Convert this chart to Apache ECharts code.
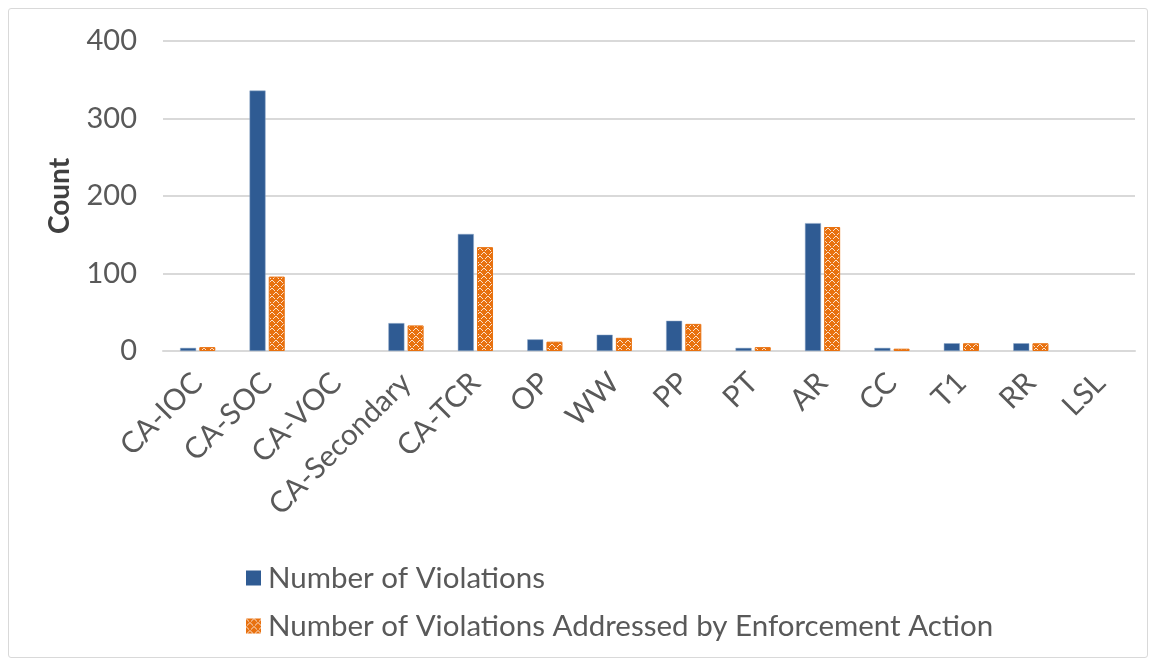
<!DOCTYPE html>
<html>
<head>
<meta charset="utf-8">
<script src="https://cdn.jsdelivr.net/npm/echarts@6/dist/echarts.min.js"></script>
<style>
  html, body { margin: 0; padding: 0; background: #fff; }
  #frame { position: absolute; left: 8px; top: 8px; width: 1138px; height: 648px; border: 1px solid #d9d9d9; border-radius: 3px; }
  #chart { position: absolute; left: 0; top: 0; width: 1156px; height: 665px; }
</style>
</head>
<body>
<div id="frame"></div>
<div id="chart"></div>
<script>
// Violation categories and counts
const categories = ['CA-IOC', 'CA-SOC', 'CA-VOC', 'CA-Secondary', 'CA-TCR', 'OP', 'WW', 'PP', 'PT', 'AR', 'CC', 'T1', 'RR', 'LSL'];
const violations = [4, 336, 0, 36, 151, 15, 21, 39, 4, 165, 4, 10, 10, 0];
const addressed  = [5, 96, 0, 33, 134, 12, 17, 35, 5, 160, 3, 10, 10, 0];
const seriesNames = ['Number of Violations', 'Number of Violations Addressed by Enforcement Action'];
const yTicks = [0, 100, 200, 300, 400];

const BLUE = '#2f5b93';
const ORANGE = '#e8710f';
const FONT = 'Lato';

// Orange fill with a white diamond-lattice pattern
function makePattern() {
  const n = 8;
  const c = document.createElement('canvas');
  c.width = n; c.height = n;
  const g = c.getContext('2d');
  g.fillStyle = ORANGE;
  g.fillRect(0, 0, n, n);
  g.fillStyle = 'rgba(255,255,255,0.8)';
  for (let i = 0; i < n; i++) {
    if (i % 4 !== 3) {
      g.fillRect(i, i, 1, 1);
      g.fillRect(n - 1 - i, i, 1, 1);
    }
  }
  return c;
}
const pattern = { image: makePattern(), repeat: 'repeat' };

// Zero-height bars get no outline so nothing shows for them
const noEdge = arr => arr.map(v => (v === 0 ? { value: 0, itemStyle: { borderWidth: 0 } } : v));

const chart = echarts.init(document.getElementById('chart'), null, { renderer: 'canvas' });
chart.setOption({
  animation: false,
  textStyle: { fontFamily: FONT },
  grid: { left: 163, right: 21, top: 41, bottom: 314, containLabel: false },
  legend: {
    orient: 'vertical',
    left: 241,
    top: 558,
    itemGap: 18,
    itemWidth: 15,
    itemHeight: 15,
    icon: 'rect',
    textStyle: { fontFamily: FONT, fontSize: 29.5, color: '#595959', padding: [0, 0, 0, 2] },
    data: [
      { name: seriesNames[0], itemStyle: { color: BLUE, borderWidth: 0 } },
      { name: seriesNames[1], itemStyle: { color: pattern, borderWidth: 0 } }
    ]
  },
  xAxis: {
    type: 'category',
    data: categories,
    axisLine: { lineStyle: { color: '#d9d9d9', width: 2 } },
    axisTick: { show: false },
    axisLabel: {
      rotate: 45,
      interval: 0,
      margin: 27,
      fontFamily: FONT,
      fontSize: 29.5,
      color: '#595959'
    }
  },
  yAxis: {
    type: 'value',
    min: 0,
    max: 400,
    interval: 100,
    name: 'Count',
    nameLocation: 'middle',
    nameGap: 89,
    nameTextStyle: { fontFamily: FONT, fontSize: 28, fontWeight: 'bold', color: '#404040' },
    axisLine: { show: false },
    axisTick: { show: false },
    splitLine: { lineStyle: { color: '#d9d9d9', width: 2 } },
    axisLabel: {
      margin: 26,
      fontFamily: FONT,
      fontSize: 29,
      color: '#595959',
      formatter: v => (yTicks.includes(v) ? String(v) : '')
    }
  },
  series: [
    {
      name: seriesNames[0],
      type: 'bar',
      data: noEdge(violations),
      barWidth: 16,
      barGap: '20%',
      itemStyle: { color: BLUE, borderColor: '#8fa8c8', borderWidth: 0.5 }
    },
    {
      name: seriesNames[1],
      type: 'bar',
      data: noEdge(addressed),
      barWidth: 16,
      barGap: '20%',
      itemStyle: { color: pattern, borderColor: ORANGE, borderWidth: 1 }
    }
  ]
});
</script>
</body>
</html>
